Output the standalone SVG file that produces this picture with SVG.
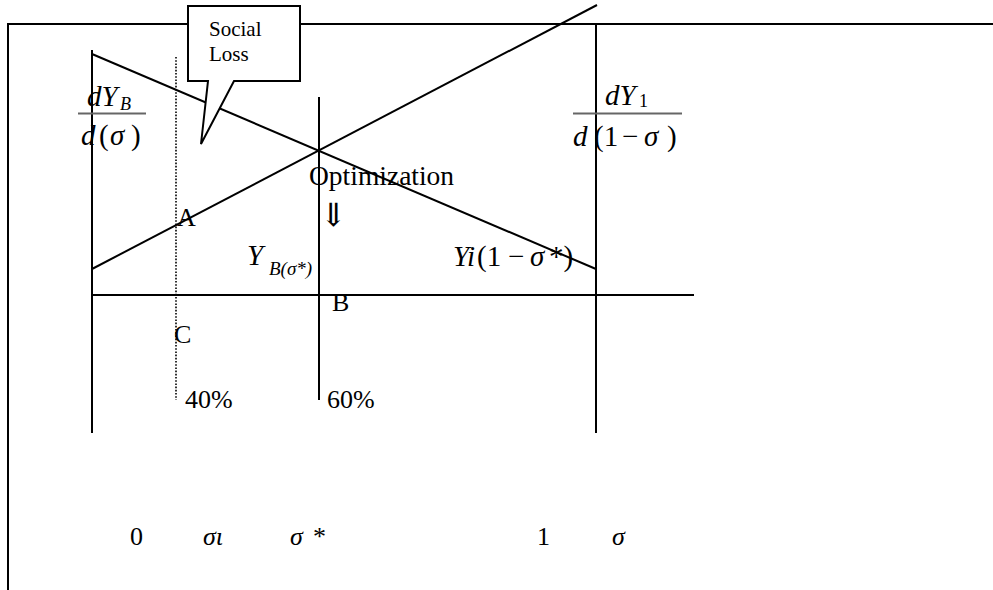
<svg xmlns="http://www.w3.org/2000/svg" width="993" height="590" viewBox="0 0 993 590">
<style>
.ln{stroke:#000;stroke-width:2;fill:none}
.dot{stroke:#000;stroke-width:1.6;stroke-dasharray:1.6 1.6;fill:none}
.fr{stroke:#666;stroke-width:1.8}
text{font-family:"Liberation Serif","Times New Roman","DejaVu Serif",serif;fill:#000}
.t{font-size:26px}
.m{font-size:29px}
.it{font-style:italic}
</style>
<rect width="993" height="590" fill="#fff"/>
<g id="connectors">
<line class="ln" x1="8" y1="24" x2="993" y2="24"/>
<line class="ln" x1="8" y1="23" x2="8" y2="590"/>
<line class="ln" x1="92" y1="50" x2="92" y2="433"/>
<line class="ln" x1="596" y1="24" x2="596" y2="433"/>
<line class="ln" x1="319" y1="97" x2="319" y2="400"/>
<line class="dot" x1="176" y1="57" x2="176" y2="400"/>
<line class="ln" x1="92" y1="295" x2="694" y2="295"/>
<line class="ln" x1="92" y1="54" x2="596" y2="269"/>
<line class="ln" x1="92" y1="269" x2="597" y2="5"/>
</g>
<g id="callout">
<path class="ln" style="fill:#fff" d="M188,6 H300 V81 H234 L201,144 L208,81 H188 Z"/>
<text x="209" y="36" font-size="21">Social</text>
<text x="209" y="61" font-size="21">Loss</text>
</g>
<g id="frac-left">
<text class="m" y="106"><tspan class="it" x="87">dY</tspan><tspan x="120" y="110" font-size="18" font-style="italic">B</tspan></text>
<line class="fr" x1="78" y1="113.5" x2="146" y2="113.5"/>
<text class="m" y="145"><tspan class="it" x="81">d</tspan><tspan x="99">(</tspan><tspan class="it" x="110">σ</tspan><tspan x="131">)</tspan></text>
</g>
<g id="frac-right">
<text class="m" y="105"><tspan class="it" x="605">dY</tspan><tspan x="639" y="107" font-size="18">1</tspan></text>
<line class="fr" x1="573" y1="113.5" x2="682" y2="113.5"/>
<text class="m" y="146"><tspan class="it" x="573">d</tspan><tspan x="594">(1</tspan><tspan x="622">−</tspan><tspan class="it" x="644">σ</tspan><tspan x="667">)</tspan></text>
</g>
<g id="optimization">
<text x="309" y="185" font-size="27.5">Optimization</text>
<text x="320" y="226" font-size="32" font-family="DejaVu Serif, serif">⇓</text>
</g>
<g id="labels">
<text class="t" x="177" y="226">A</text>
<text class="t" x="332" y="311">B</text>
<text class="t" x="174" y="343">C</text>
<text class="t" x="185" y="408">40%</text>
<text class="t" x="327" y="408">60%</text>
<text class="m it" x="247" y="265">Y</text>
<text x="269" y="275" font-size="19" font-style="italic">B(σ*)</text>
<text class="m" y="266"><tspan class="it" x="453">Yi</tspan><tspan x="477">(1</tspan><tspan x="508">−</tspan><tspan class="it" x="530">σ</tspan><tspan x="549">*)</tspan></text>
</g>
<g id="axis-labels">
<text class="t" x="130" y="545">0</text>
<text class="t it" x="203" y="545">σι</text>
<text class="t it" x="290" y="545">σ</text>
<text class="t" x="313" y="545">*</text>
<text class="t" x="537" y="545">1</text>
<text class="t it" x="612" y="545">σ</text>
</g>
</svg>
